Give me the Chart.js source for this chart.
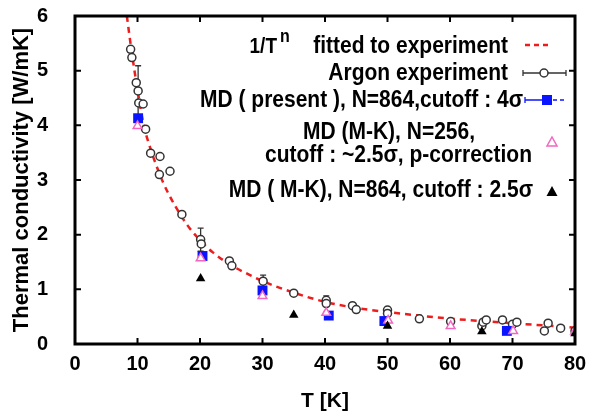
<!DOCTYPE html>
<html lang="en">
<head>
  <meta charset="UTF-8" />
  <title>Thermal conductivity of argon</title>
  <style>
    html, body { margin: 0; padding: 0; background: #fff; }
    canvas { display: block; }
  </style>
</head>
<body>
  <canvas id="chart" width="591" height="415"></canvas>

  <script src="https://cdn.jsdelivr.net/npm/chart.js"></script>
  <script>
    // Argon experiment (T [K], k [W/mK])
    const expT = [8.9, 9.1, 9.8, 10.1, 10.2, 10.9, 11.3, 12.1, 13.6, 13.5, 15.2, 17.1, 20.1, 20.2, 24.7, 25.1, 30.1, 35.0, 40.2, 40.2, 44.4, 45.0, 50.0, 50.0, 55.1, 60.1, 65.1, 65.3, 65.8, 68.4, 70.0, 70.7, 75.1, 75.7, 77.7, 80.0];
    const expK = [5.39, 5.24, 4.78, 4.63, 4.41, 4.39, 3.93, 3.49, 3.43, 3.10, 3.16, 2.37, 1.91, 1.83, 1.52, 1.43, 1.15, 0.93, 0.80, 0.74, 0.70, 0.63, 0.62, 0.56, 0.46, 0.41, 0.33, 0.40, 0.44, 0.44, 0.36, 0.40, 0.24, 0.38, 0.29, 0.24];

    // error bars on a few experiment points
    const errT = [10.1, 20.1, 30.1, 40.2, 50.0];
    const errK = [4.63, 1.91, 1.15, 0.80, 0.62];
    const errD = [0.46, 0.21, 0.11, 0.08, 0.05];

    // MD (present), N=864, cutoff 4 sigma
    const mdT = [10.1, 20.4, 30.0, 40.6, 49.5, 69.1];
    const mdK = [4.13, 1.61, 0.98, 0.52, 0.42, 0.24];

    // MD (M-K), N=256, p-correction
    const mk256T = [10.0, 20.1, 30.0, 40.2, 50.1, 60.1, 70.1, 80.0];
    const mk256K = [3.99, 1.57, 0.88, 0.57, 0.43, 0.33, 0.24, 0.23];

    // MD (M-K), N=864, cutoff 2.5 sigma
    const mk864T = [20.1, 35.0, 50.0, 65.1, 80.0];
    const mk864K = [1.20, 0.53, 0.33, 0.23, 0.19];

    // 1/T^n curve
    const fitT = [8.3, 9, 10, 11, 12, 13, 14, 15, 16, 18, 20, 22, 25, 28, 30, 35, 40, 45, 50, 55, 60, 65, 70, 75, 80];
    const fitK = [6.00, 5.40, 4.65, 4.00, 3.60, 3.27, 2.98, 2.74, 2.53, 2.17, 1.90, 1.68, 1.44, 1.26, 1.15, 0.94, 0.77, 0.66, 0.585, 0.52, 0.465, 0.42, 0.38, 0.34, 0.30];

    const xTicks = [0, 10, 20, 30, 40, 50, 60, 70, 80];
    const yTicks = [0, 1, 2, 3, 4, 5, 6];

    const FONT = '"Liberation Sans", Arial, sans-serif';
    const RED = '#ee1c1c';
    const BLUE = '#0a14ff';
    const PINK = '#f266c0';
    const STRETCH = 1.17; // the original lettering is a bit taller than wide

    const pts = (xs, ys) => xs.map((x, i) => ({ x: x, y: ys[i] }));

    // error bars, under the markers
    const errorBars = {
      id: 'errorBars',
      beforeDatasetsDraw(chart) {
        const { ctx, scales: { x, y } } = chart;
        ctx.save();
        ctx.strokeStyle = '#333';
        ctx.lineWidth = 1.3;
        errT.forEach((t, i) => {
          const px = x.getPixelForValue(t);
          const top = y.getPixelForValue(errK[i] + errD[i]);
          const bot = y.getPixelForValue(errK[i] - errD[i]);
          ctx.beginPath();
          ctx.moveTo(px, top); ctx.lineTo(px, bot);
          ctx.moveTo(px - 3, top); ctx.lineTo(px + 3, top);
          ctx.moveTo(px - 3, bot); ctx.lineTo(px + 3, bot);
          ctx.stroke();
        });
        ctx.restore();
      }
    };

    // heavy frame with inward ticks on all four sides
    const frame = {
      id: 'frame',
      afterDatasetsDraw(chart) {
        const { ctx, chartArea: a, scales: { x, y } } = chart;
        ctx.save();
        ctx.strokeStyle = '#000';
        ctx.lineWidth = 2;
        ctx.beginPath();
        xTicks.forEach(t => {
          const px = x.getPixelForValue(t);
          ctx.moveTo(px, a.bottom); ctx.lineTo(px, a.bottom - 6);
          ctx.moveTo(px, a.top); ctx.lineTo(px, a.top + 6);
        });
        yTicks.forEach(v => {
          const py = y.getPixelForValue(v);
          ctx.moveTo(a.left, py); ctx.lineTo(a.left + 6, py);
          ctx.moveTo(a.right, py); ctx.lineTo(a.right - 6, py);
        });
        ctx.stroke();
        ctx.lineWidth = 3;
        ctx.strokeRect(a.left, a.top, a.right - a.left, a.bottom - a.top);
        ctx.restore();
      }
    };

    function tallText(ctx, text, x, y) {
      ctx.save();
      ctx.translate(x, y);
      ctx.scale(1, STRETCH);
      ctx.fillText(text, 0, 0);
      ctx.restore();
    }

    // hand-placed legend, right aligned like the original
    const legendBox = {
      id: 'legendBox',
      afterDraw(chart) {
        const ctx = chart.ctx;
        ctx.save();
        ctx.fillStyle = '#000';
        ctx.textBaseline = 'middle';
        ctx.font = 'bold 21px ' + FONT;

        ctx.textAlign = 'right';
        tallText(ctx, 'fitted to experiment', 508, 46);
        tallText(ctx, 'Argon experiment', 508, 73);
        tallText(ctx, 'MD ( present ), N=864,cutoff : 4\u03c3', 523, 100);
        tallText(ctx, 'cutoff : ~2.5\u03c3, p-correction', 532, 155);
        tallText(ctx, 'MD ( M-K), N=864, cutoff : 2.5\u03c3', 533, 190);
        ctx.font = 'bold 19px ' + FONT;
        tallText(ctx, '1/T', 277, 47);
        ctx.font = 'bold 21px ' + FONT;
        ctx.textAlign = 'center';
        tallText(ctx, 'MD (M-K), N=256,', 389, 132);
        ctx.textAlign = 'left';
        ctx.font = 'bold 16px ' + FONT;
        tallText(ctx, 'n', 280, 37);

        // red dashes
        ctx.strokeStyle = RED;
        ctx.lineWidth = 2.5;
        ctx.setLineDash([5, 4]);
        ctx.beginPath(); ctx.moveTo(525, 45); ctx.lineTo(551, 45); ctx.stroke();
        ctx.setLineDash([]);

        // experiment symbol
        ctx.strokeStyle = '#333';
        ctx.lineWidth = 1.3;
        ctx.beginPath();
        ctx.moveTo(523, 73); ctx.lineTo(566, 73);
        ctx.moveTo(523, 70); ctx.lineTo(523, 76);
        ctx.moveTo(566, 70); ctx.lineTo(566, 76);
        ctx.stroke();
        ctx.fillStyle = '#fff';
        ctx.lineWidth = 1.5;
        ctx.beginPath(); ctx.arc(544, 73, 4, 0, 2 * Math.PI); ctx.fill(); ctx.stroke();

        // MD present symbol
        ctx.strokeStyle = BLUE;
        ctx.fillStyle = BLUE;
        ctx.lineWidth = 1.3;
        ctx.beginPath();
        ctx.moveTo(525, 100); ctx.lineTo(545, 100);
        ctx.moveTo(525, 97); ctx.lineTo(525, 103);
        ctx.stroke();
        ctx.fillRect(542, 95, 10, 10);
        ctx.setLineDash([4, 3]);
        ctx.beginPath(); ctx.moveTo(553, 100); ctx.lineTo(566, 100); ctx.stroke();
        ctx.setLineDash([]);

        // pink open triangle
        ctx.strokeStyle = PINK;
        ctx.fillStyle = '#fff';
        ctx.lineWidth = 1.5;
        ctx.beginPath();
        ctx.moveTo(552, 137); ctx.lineTo(557, 146); ctx.lineTo(547, 146); ctx.closePath();
        ctx.fill(); ctx.stroke();

        // black filled triangle
        ctx.fillStyle = '#000';
        ctx.beginPath();
        ctx.moveTo(552, 186); ctx.lineTo(557.5, 196); ctx.lineTo(546.5, 196); ctx.closePath();
        ctx.fill();
        ctx.restore();
      }
    };

    new Chart(document.getElementById('chart').getContext('2d'), {
      type: 'scatter',
      data: {
        datasets: [
          {
            label: 'MD ( M-K), N=864, cutoff : 2.5\u03c3',
            data: pts(mk864T, mk864K),
            pointStyle: 'triangle',
            pointRadius: 5.5,
            backgroundColor: '#000',
            borderColor: '#000',
            borderWidth: 0
          },
          {
            label: 'MD (M-K), N=256, cutoff : ~2.5\u03c3, p-correction',
            data: pts(mk256T, mk256K),
            pointStyle: 'triangle',
            pointRadius: 5,
            backgroundColor: '#fff',
            borderColor: PINK,
            borderWidth: 1.5
          },
          {
            label: 'MD ( present ), N=864,cutoff : 4\u03c3',
            data: pts(mdT, mdK),
            pointStyle: 'rect',
            pointRadius: 7,
            backgroundColor: BLUE,
            borderColor: BLUE,
            borderWidth: 0
          },
          {
            label: 'Argon experiment',
            data: pts(expT, expK),
            pointStyle: 'circle',
            pointRadius: 4,
            backgroundColor: '#fff',
            borderColor: '#333',
            borderWidth: 1.5
          },
          {
            label: '1/T^n fitted to experiment',
            data: pts(fitT, fitK),
            showLine: true,
            pointRadius: 0,
            borderColor: RED,
            borderWidth: 2.5,
            borderDash: [6, 5],
            cubicInterpolationMode: 'monotone'
          }
        ]
      },
      options: {
        responsive: false,
        animation: false,
        layout: { padding: { top: 16, right: 16, left: 0, bottom: 0 } },
        plugins: {
          legend: { display: false },
          tooltip: { enabled: false }
        },
        scales: {
          x: {
            min: 0,
            max: 80,
            afterFit: s => { s.height = 71; },
            afterBuildTicks: s => { s.ticks = xTicks.map(v => ({ value: v })); },
            // grid hidden; tickLength only pushes the labels down
            grid: { display: false, drawTicks: true, tickLength: 8 },
            border: { display: false },
            ticks: {
              color: '#000',
              padding: 0,
              maxRotation: 0,
              font: { family: FONT, size: 20, weight: 'bold' }
            },
            title: {
              display: true,
              text: 'T [K]',
              color: '#000',
              padding: { top: 0, bottom: 1 },
              font: { family: FONT, size: 21, weight: 'bold' }
            }
          },
          y: {
            min: 0,
            max: 6,
            afterFit: s => { s.width = 75; },
            afterBuildTicks: s => { s.ticks = yTicks.map(v => ({ value: v })); },
            grid: { display: false, drawTicks: true, tickLength: 26 },
            border: { display: false },
            ticks: {
              color: '#000',
              padding: 1,
              font: { family: FONT, size: 20, weight: 'bold' }
            },
            title: {
              display: true,
              text: 'Thermal conductivity [W/mK]',
              color: '#000',
              padding: { top: 9, bottom: 0 },
              font: { family: FONT, size: 22, weight: 'bold' }
            }
          }
        }
      },
      plugins: [errorBars, frame, legendBox]
    });
  </script>
</body>
</html>
